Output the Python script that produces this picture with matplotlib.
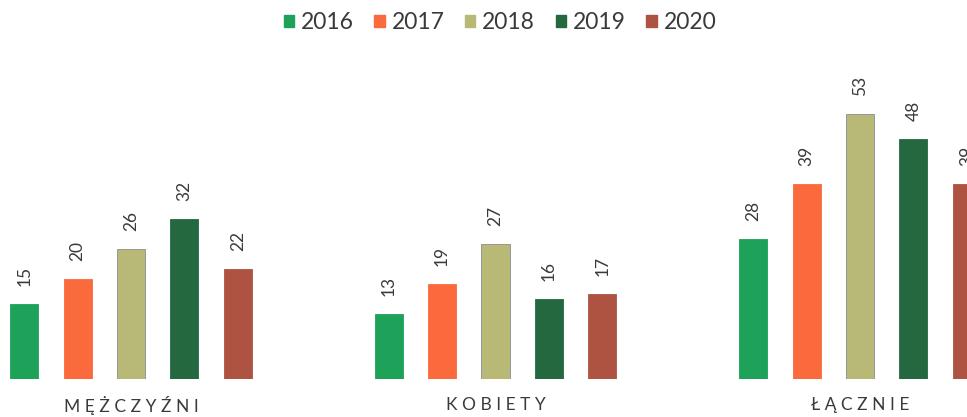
import matplotlib.pyplot as plt
from matplotlib.patches import Patch
import numpy as np

categories = ["MĘŻCZYŹNI", "KOBIETY", "ŁĄCZNIE"]
years = ["2016", "2017", "2018", "2019", "2020"]
values = {
    "2016": [15, 13, 28],
    "2017": [20, 19, 39],
    "2018": [26, 27, 53],
    "2019": [32, 16, 48],
    "2020": [22, 17, 39],
}
colors = ["#1ea158", "#fb6a3c", "#b8b977", "#24683f", "#ae5342"]

plt.rcParams['font.family'] = ['Lato', 'DejaVu Sans']

fig = plt.figure(figsize=(9.67, 4.17), dpi=100)
ax = fig.add_axes([0, 38 / 417, 1, 300 / 417])

x = np.arange(len(categories))
step = 0.1466
width = 0.077
for i, year in enumerate(years):
    pos = x + (i - 2) * step
    edge = "#8c8c96" if year == "2018" else colors[i]
    bars = ax.bar(pos, values[year], width, color=colors[i],
                  edgecolor=edge, linewidth=0.6)
    for b, v in zip(bars, values[year]):
        ax.annotate(str(v), (b.get_x() + b.get_width() / 2, v),
                    xytext=(0, 13), textcoords="offset points",
                    rotation=90, ha="center", va="bottom",
                    fontsize=12.5, color="#3a3a3a")

# podpisy grup z rozstrzelonymi literami
for xi, cat in zip(x, categories):
    ax.annotate(" ".join(cat), (xi, 0), xytext=(0, -19),
                textcoords="offset points", ha="center", va="center",
                fontsize=12.5, color="#3a3a3a")

ax.set_xlim(-131 / 364.5, (967 - 131) / 364.5)
ax.set_ylim(0, 60)
ax.axis("off")

handles = [Patch(facecolor=c, edgecolor=c) for c in colors]
fig.legend(handles, years, loc="upper center", bbox_to_anchor=(0.517, 1.02),
           ncol=5, frameon=False, fontsize=16.5, handlelength=0.45,
           handleheight=0.45, handletextpad=0.3, columnspacing=0.9,
           labelcolor="#3a3a3a")

fig.savefig("out.png", dpi=100, facecolor="white")
